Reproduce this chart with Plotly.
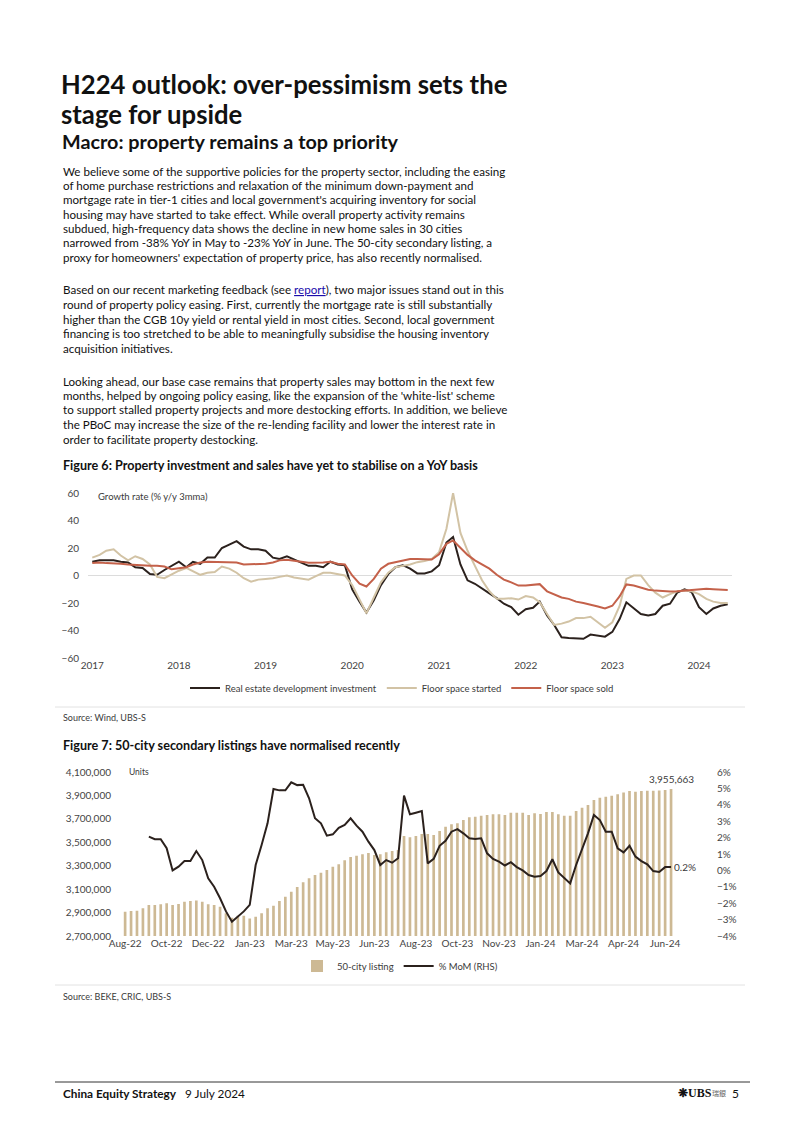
import plotly.graph_objects as go
import pandas as pd

W, H = 802, 1134
OFF = 8  # page body margin of the browser
def PX(x): return (x - OFF) / W
def PY(y): return 1 - (y - OFF) / H

# ---------------- Figure 6 data (monthly, Jan-2017 .. May-2024) ----------------
months = pd.date_range("2017-01-01", periods=89, freq="MS")
re_invest = [10, 11, 11, 11, 10, 9.5, 6, 5.5, 1, 0.5, 4, 7,
             10, 6, 10, 8.5, 13, 13, 20, 22.5, 25, 21, 19, 19,
             18, 13, 12, 14, 11.5, 9, 7, 7, 6, 10, 8, 7.5,
             -10, -19, -27, -18, -7, 1, 6, 7.5, 5, 1.5, 1.5, 3,
             7.5, 24, 28, 8, -3.5, -6, -9.7, -13, -16.5, -20.5, -23, -28.5,
             -24.5, -23.5, -19, -29, -36, -45, -45.5, -46, -46, -43, -44, -44.5,
             -41, -31.5, -19.5, -24, -28, -29, -28, -22, -20.5, -12.5, -10, -12,
             -23, -28, -24, -22, -21]
floor_started = [13, 15, 18, 19, 14.5, 11, 14, 12, 8, -1, -2, 1,
                 3.5, 5.5, 3, 0.5, 2, 2.5, 6.5, 5, 2, -2, -4.5, -3,
                 -2.5, -2, -1, 0, -1.5, -2.5, -3, -0.5, 2, 2, 1, 0,
                 -7, -17, -27.5, -16, -5, 2, 6, 7, 8, 9.7, 10.5, 12,
                 17, 34, 60, 31, 18, 7, -3.5, -11.5, -17, -17, -16.5, -17.5,
                 -15, -16, -19.5, -28, -36, -35, -33.5, -31, -31, -30, -34, -38,
                 -34, -22, -2.5, 0, 0, -7, -12.5, -16, -13.5, -11.5, -11, -11.5,
                 -13.5, -17, -19, -20, -20]
floor_sold = [9, 9.5, 9, 9, 8.5, 8, 7.5, 7, 7, 7, 6.5, 4.5,
              5, 6, 8, 9.5, 10, 10, 10, 10, 9.5, 8, 8, 8,
              8.5, 9.5, 11, 11.5, 10.5, 10, 9.2, 9.2, 9.5, 10, 8.5, 8,
              0, -6, -8, -2.5, 5, 8.5, 9.7, 11, 12, 12, 11.8, 11.6,
              15.5, 23, 25.5, 20.5, 15, 11, 8, 5, 0.5, -3, -5, -7.3,
              -7.3, -7, -6.3, -11.5, -14, -16, -17, -19, -20, -21, -22.5, -24,
              -22, -15, -6.5, -7.3, -9, -10.4, -11, -11.5, -11.6, -11.4, -11, -11,
              -10.4, -9.7, -10, -10.3, -10.5]

# ---------------- Figure 7 data (weekly) ----------------
week_idx = list(range(93))
listing = [2907000, 2913000, 2916000, 2936000, 2965000, 2965000, 2970000, 2979000, 2965000, 2973000,
           2993000, 2999000, 3002000, 2993000, 2970000, 2965000, 2950000, 2894000, 2856000, 2873000,
           2873000, 2850000, 2864000, 2894000, 2936000, 2959000, 2999000, 3036000, 3078000, 3118000,
           3158000, 3192000, 3221000, 3240000, 3263000, 3292000, 3312000, 3346000, 3374000, 3386000,
           3397000, 3408000, 3391000, 3397000, 3414000, 3426000, 3434000, 3554000, 3542000, 3554000,
           3571000, 3571000, 3562000, 3596000, 3633000, 3653000, 3662000, 3690000, 3713000, 3718000,
           3727000, 3733000, 3739000, 3739000, 3733000, 3753000, 3753000, 3753000, 3733000, 3747000,
           3741000, 3759000, 3759000, 3739000, 3727000, 3727000, 3767000, 3795000, 3818000, 3861000,
           3881000, 3889000, 3898000, 3909000, 3926000, 3938000, 3932000, 3938000, 3940000, 3940000,
           3943000, 3946000, 3955663]
mom = [None, None, None, None,
       2.06, 1.9, 1.9, 1.35, 0.0, 0.23, 0.57, 0.57, 1.18, 0.63,
       -0.48, -1.0, -1.7, -2.5, -3.13, -2.8, -2.5, -2.1, 0.33, 1.55,
       2.87, 4.96, 4.88, 4.88, 5.37, 5.2, 5.22, 4.4, 3.18, 2.87,
       2.12, 2.2, 2.6, 2.77, 3.18, 2.73, 2.36, 1.75, 1.24, 0.33,
       0.63, 0.47, 0.74, 4.56, 3.42, 3.52, 3.62, 0.43, 0.7, 1.5,
       1.8, 2.36, 2.52, 2.26, 1.96, 1.91, 1.96, 1.04, 0.7, 0.53,
       0.3, 0.5, 0.2, 0.0, -0.28, -0.38, -0.34, -0.04, 0.68, -0.12,
       -0.48, -0.79, 0.33, 1.24, 2.26, 3.38, 3.07, 2.36, 2.36, 1.35,
       1.1, 1.5, 0.84, 0.57, 0.37, -0.04, -0.1, 0.2, 0.2]
x7_labels = ["Aug-22", "Oct-22", "Dec-22", "Jan-23", "Mar-23", "May-23", "Jun-23",
             "Aug-23", "Oct-23", "Nov-23", "Jan-24", "Mar-24", "Apr-24", "Jun-24"]
x7_tickpos = week_idx[::7][:len(x7_labels)]
left_ticks = [2700000, 2900000, 3100000, 3300000, 3500000, 3700000, 3900000, 4100000]

# ---------------- page text ----------------
title_lines = ["H224 outlook: over-pessimism sets the", "stage for upside"]
subtitle = "Macro: property remains a top priority"
para1 = ["We believe some of the supportive policies for the property sector, including the easing",
         "of home purchase restrictions and relaxation of the minimum down-payment and",
         "mortgage rate in tier-1 cities and local government's acquiring inventory for social",
         "housing may have started to take effect. While overall property activity remains",
         "subdued, high-frequency data shows the decline in new home sales in 30 cities",
         "narrowed from -38% YoY in May to -23% YoY in June. The 50-city secondary listing, a",
         "proxy for homeowners' expectation of property price, has also recently normalised."]
para2 = ["Based on our recent marketing feedback (see <span style='color:#1a0dab;text-decoration:underline'>report</span>), two major issues stand out in this",
         "round of property policy easing. First, currently the mortgage rate is still substantially",
         "higher than the CGB 10y yield or rental yield in most cities. Second, local government",
         "financing is too stretched to be able to meaningfully subsidise the housing inventory",
         "acquisition initiatives."]
para3 = ["Looking ahead, our base case remains that property sales may bottom in the next few",
         "months, helped by ongoing policy easing, like the expansion of the 'white-list' scheme",
         "to support stalled property projects and more destocking efforts. In addition, we believe",
         "the PBoC may increase the size of the re-lending facility and lower the interest rate in",
         "order to facilitate property destocking."]
cap6 = "Figure 6: Property investment and sales have yet to stabilise on a YoY basis"
cap7 = "Figure 7: 50-city secondary listings have normalised recently"

BODY = "Lato"
CH = "Lato"
C_BLACK = "#2b211d"
C_TAN = "#d2c3a5"
C_RED = "#c4614a"
C_BAR = "#cdb994"

fig = go.Figure()

fig.add_trace(go.Scatter(x=months, y=re_invest, name="Real estate development investment",
                         mode="lines", line=dict(color=C_BLACK, width=2), xaxis="x", yaxis="y"))
fig.add_trace(go.Scatter(x=months, y=floor_started, name="Floor space started",
                         mode="lines", line=dict(color=C_TAN, width=2), xaxis="x", yaxis="y"))
fig.add_trace(go.Scatter(x=months, y=floor_sold, name="Floor space sold",
                         mode="lines", line=dict(color=C_RED, width=2), xaxis="x", yaxis="y"))

fig.add_trace(go.Bar(x=week_idx, y=listing, name="50-city listing", marker=dict(color=C_BAR, line_width=0),
                     xaxis="x2", yaxis="y2", legend="legend2"))
fig.add_trace(go.Scatter(x=week_idx, y=mom, name="% MoM (RHS)", mode="lines",
                         line=dict(color=C_BLACK, width=2), xaxis="x2", yaxis="y3", legend="legend2"))

tickfont = dict(family=CH, size=10, color="#444444")

fig.update_layout(
    width=W, height=H, margin=dict(l=0, r=0, t=0, b=0, pad=0, autoexpand=False),
    paper_bgcolor="white", plot_bgcolor="white",
    bargap=0.55,
    xaxis=dict(domain=[PX(88), PX(732)], range=["2016-12-14", "2024-05-19"],
               tickformat="%Y", dtick="M12", tick0="2017-01-01", showgrid=False,
               showline=False, ticks="", tickfont=tickfont, anchor="y", automargin=False),
    yaxis=dict(domain=[PY(658), PY(493)], range=[-60, 60], dtick=20, showgrid=False,
               zeroline=True, zerolinecolor="#dcdcdc", zerolinewidth=1, ticks="",
               tickfont=tickfont, anchor="x", ticklabelstandoff=8, automargin=False),
    xaxis2=dict(domain=[PX(118), PX(712)], range=[-1.2, 98.9], tickvals=x7_tickpos, ticktext=x7_labels,
                showgrid=False, showline=False, ticks="", tickfont=tickfont, anchor="y2", automargin=False),
    yaxis2=dict(domain=[PY(936), PY(772)], range=[2700000, 4100000], tickvals=left_ticks,
                tickformat=",d", showgrid=False, zeroline=False, ticks="", tickfont=tickfont,
                anchor="x2", ticklabelstandoff=6, automargin=False),
    yaxis3=dict(overlaying="y2", side="right", range=[-4, 6], dtick=1, ticksuffix="%",
                showgrid=False, zeroline=False, ticks="", tickfont=tickfont, anchor="x2",
                ticklabelstandoff=4, automargin=False),
    legend=dict(orientation="h", x=PX(402), xanchor="center", y=PY(688), yanchor="middle",
                font=dict(family=CH, size=9.5, color="#3a3a3a"), bgcolor="rgba(0,0,0,0)",
                itemwidth=30),
    legend2=dict(orientation="h", x=PX(400), xanchor="center", y=PY(966), yanchor="middle",
                 font=dict(family=CH, size=9.5, color="#3a3a3a"), bgcolor="rgba(0,0,0,0)",
                 itemwidth=30),
    showlegend=True,
)

ann = []
def txt(x, y, s, size, bold=False, color="#111", family=BODY, xanchor="left"):
    ann.append(dict(x=PX(x), y=PY(y), xref="paper", yref="paper", xanchor=xanchor, yanchor="middle",
                    text=(f"<b>{s}</b>" if bold else s), showarrow=False,
                    font=dict(family=family, size=size, color=color)))

txt(59, 84, title_lines[0], 25.7, bold=True)
txt(59, 114, title_lines[1], 25.7, bold=True)
txt(60, 141, subtitle, 19.8, bold=True)
for i, s in enumerate(para1):
    txt(61, 171 + i * 14.35, s, 11.6)
for i, s in enumerate(para2):
    txt(61, 290 + i * 14.5, s, 11.6)
for i, s in enumerate(para3):
    txt(61, 381 + i * 14.5, s, 11.6)
txt(61, 466, cap6, 12.6, bold=True)
txt(61, 745, cap7, 12.6, bold=True)
txt(96, 497, "Growth rate (% y/y 3mma)", 9.5, color="#3a3a3a", family=CH)
txt(127, 772, "Units", 8.5, color="#3a3a3a", family=CH)
txt(61, 717, "Source: Wind, UBS-S", 9, color="#3a3a3a", family=CH)
txt(61, 996, "Source: BEKE, CRIC, UBS-S", 9, color="#3a3a3a", family=CH)
txt(61, 1093, "<b>China Equity Strategy</b>   9 July 2024", 11.8, color="#111")
txt(741, 1093, "5", 12, color="#111", xanchor="right")
txt(728, 1093, "瑞銀", 7, color="#666", family="Noto Sans CJK TC", xanchor="right")
txt(714, 1093, "<b>\u274bUBS</b>", 12, color="#111", family="Liberation Serif", xanchor="right")

# data labels on Figure 7
ann.append(dict(x=week_idx[-1], y=listing[-1], xref="x2", yref="y2", text="3,955,663", showarrow=False,
                yanchor="bottom", yshift=2, font=dict(family=CH, size=10, color="#3a3a3a")))
ann.append(dict(x=week_idx[-1], y=mom[-1], xref="x2", yref="y3", text="0.2%", showarrow=False,
                xanchor="left", xshift=1, font=dict(family=CH, size=10, color="#3a3a3a")))
fig.update_layout(annotations=ann)

shapes = [
    dict(type="line", xref="paper", yref="paper", x0=PX(55), x1=PX(745), y0=PY(707), y1=PY(707),
         line=dict(color="#e2e2e2", width=1)),
    dict(type="line", xref="paper", yref="paper", x0=PX(55), x1=PX(745), y0=PY(985), y1=PY(985),
         line=dict(color="#e2e2e2", width=1)),
    dict(type="line", xref="paper", yref="paper", x0=PX(55), x1=PX(750), y0=PY(1082), y1=PY(1082),
         line=dict(color="#333333", width=1)),
]
fig.update_layout(shapes=shapes)

fig.write_html("out.html")
